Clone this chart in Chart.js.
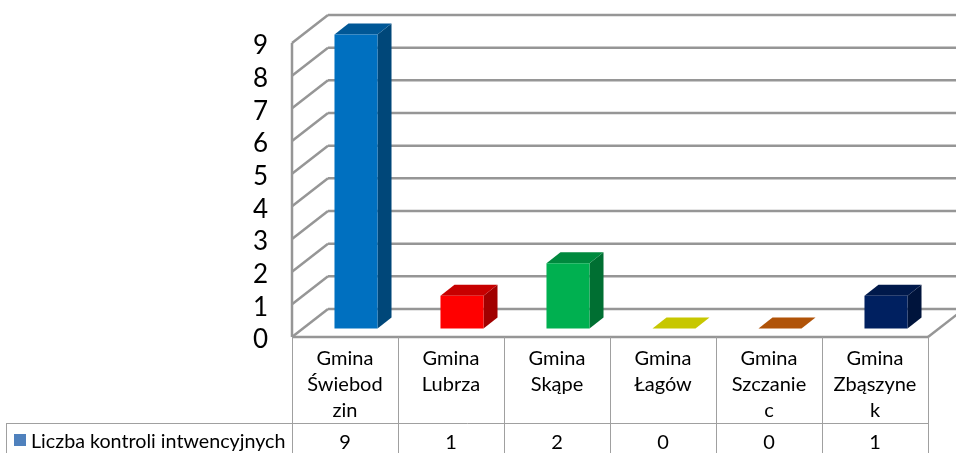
<!DOCTYPE html>
<html lang="pl">
<head>
<meta charset="utf-8">
<title>Liczba kontroli intwencyjnych</title>
<script src="https://cdn.jsdelivr.net/npm/chart.js@4"></script>
<style>
  html, body { margin: 0; padding: 0; background: #fff; overflow: hidden; }
  canvas { display: block; }
</style>
</head>
<body>
<canvas id="barChart" width="956" height="453"></canvas>
<script>
const seriesName = 'Liczba kontroli intwencyjnych';
const categories = [
  ['Gmina', 'Świebod', 'zin'],
  ['Gmina', 'Lubrza'],
  ['Gmina', 'Skąpe'],
  ['Gmina', 'Łagów'],
  ['Gmina', 'Szczanie', 'c'],
  ['Gmina', 'Zbąszyne', 'k']
];
const values = [9, 1, 2, 0, 0, 1];
const barColors = ['#0070c0', '#ff0000', '#00b050', '#ffff00', '#e26b0a', '#002060'];

const FONT = 'Lato, "Open Sans", sans-serif';
const GRID = '#969696';
const TABLE = '#a0a0a0';
const WALL_DX = 36, WALL_DY = -28;   // glebokosc sciany bocznej
const BAR_DX = 14, BAR_DY = -11;     // glebokosc slupka
const BAR_SHIFT_X = 11, BAR_SHIFT_Y = -8.5;
const TABLE_ROW_Y = 423;

function shade(hex, f) {
  const n = parseInt(hex.slice(1), 16);
  const c = [n >> 16, (n >> 8) & 255, n & 255].map(v => Math.round(v * f));
  return `rgb(${c[0]}, ${c[1]}, ${c[2]})`;
}

function poly(ctx, pts, fill) {
  ctx.beginPath();
  pts.forEach((p, i) => i ? ctx.lineTo(p[0], p[1]) : ctx.moveTo(p[0], p[1]));
  ctx.closePath();
  ctx.fillStyle = fill;
  ctx.fill();
}

function line(ctx, x1, y1, x2, y2, color, width) {
  ctx.beginPath();
  ctx.moveTo(x1, y1);
  ctx.lineTo(x2, y2);
  ctx.strokeStyle = color;
  ctx.lineWidth = width;
  ctx.stroke();
}

// sciany wykresu 3D rysowane ze skali y
const wallsPlugin = {
  id: 'walls',
  beforeDatasetsDraw(chart) {
    const { ctx, chartArea, scales } = chart;
    const left = chartArea.left, right = chartArea.right;
    ctx.save();
    scales.y.ticks.forEach(t => {
      const y = scales.y.getPixelForValue(t.value);
      line(ctx, left, y, left + WALL_DX, y + WALL_DY, GRID, 2.5);
      line(ctx, left + WALL_DX, y + WALL_DY, right + WALL_DX, y + WALL_DY, GRID, 2.5);
    });
    line(ctx, left, chartArea.top, left, chartArea.bottom, GRID, 2.5);
    line(ctx, left, chartArea.bottom, right, chartArea.bottom, GRID, 2.5);
    line(ctx, right, chartArea.bottom, right + WALL_DX, chartArea.bottom + WALL_DY, GRID, 2.5);
    ctx.restore();
  }
};

// boki i gora slupkow, przod rysuje sam Chart.js
const bars3dPlugin = {
  id: 'bars3d',
  beforeDatasetDraw(chart, args) {
    const { ctx } = chart;
    ctx.save();
    ctx.translate(BAR_SHIFT_X, BAR_SHIFT_Y);
    args.meta.data.forEach((bar, i) => {
      const l = bar.x - bar.width / 2, r = bar.x + bar.width / 2;
      const color = barColors[i];
      if (values[i] > 0) {
        poly(ctx, [[r, bar.y], [r + BAR_DX, bar.y + BAR_DY], [r + BAR_DX, bar.base + BAR_DY], [r, bar.base]], shade(color, 0.63));
      }
      poly(ctx, [[l, bar.y], [l + BAR_DX, bar.y + BAR_DY], [r + BAR_DX, bar.y + BAR_DY], [r, bar.y]], shade(color, 0.78));
    });
  },
  afterDatasetDraw(chart) {
    chart.ctx.restore();
  }
};

// tabela danych pod wykresem
const dataTablePlugin = {
  id: 'dataTable',
  afterDraw(chart) {
    const { ctx, chartArea, scales } = chart;
    const h = chart.height;
    const step = (chartArea.right - chartArea.left) / categories.length;
    ctx.save();
    for (let i = 0; i <= categories.length; i++) {
      const x = Math.round(chartArea.left + i * step) + 0.5;
      line(ctx, x, chartArea.bottom, x, h, TABLE, 1);
    }
    line(ctx, 6.5, TABLE_ROW_Y + 0.5, chartArea.right, TABLE_ROW_Y + 0.5, TABLE, 1);
    line(ctx, 6.5, TABLE_ROW_Y, 6.5, h, TABLE, 1);

    ctx.fillStyle = '#4f81bd';
    ctx.fillRect(14, 434, 12, 12);

    ctx.fillStyle = '#000';
    ctx.textBaseline = 'middle';
    ctx.textAlign = 'left';
    ctx.font = '19.7px ' + FONT;
    ctx.fillText(seriesName, 31, 442);
    ctx.font = '20px ' + FONT;
    ctx.textAlign = 'center';
    values.forEach((v, i) => ctx.fillText(String(v), scales.x.getPixelForTick(i), 443));
    ctx.restore();
  }
};

new Chart(document.getElementById('barChart').getContext('2d'), {
  type: 'bar',
  data: {
    labels: categories,
    datasets: [{
      label: seriesName,
      data: values,
      backgroundColor: barColors,
      barPercentage: 0.406,
      categoryPercentage: 1,
      clip: false
    }]
  },
  options: {
    responsive: false,
    animation: false,
    layout: { padding: { top: 43, right: 28, left: 0, bottom: 0 } },
    plugins: {
      legend: { display: false },
      title: { display: false },
      tooltip: { enabled: false }
    },
    scales: {
      x: {
        afterFit: scale => { scale.height = 116; },
        grid: { display: false, drawTicks: false },
        border: { display: false },
        ticks: {
          color: '#000',
          maxRotation: 0,
          autoSkip: false,
          padding: 9,
          font: { family: FONT, size: 20, lineHeight: 1.3 }
        }
      },
      y: {
        min: 0,
        max: 9,
        afterFit: scale => { scale.width = 292; },
        grid: { display: false, drawTicks: false },
        border: { display: false },
        ticks: {
          color: '#000',
          stepSize: 1,
          autoSkip: false,
          padding: 24,
          labelOffset: 3,
          font: { family: FONT, size: 26 }
        }
      }
    }
  },
  plugins: [wallsPlugin, bars3dPlugin, dataTablePlugin]
});
</script>
</body>
</html>
